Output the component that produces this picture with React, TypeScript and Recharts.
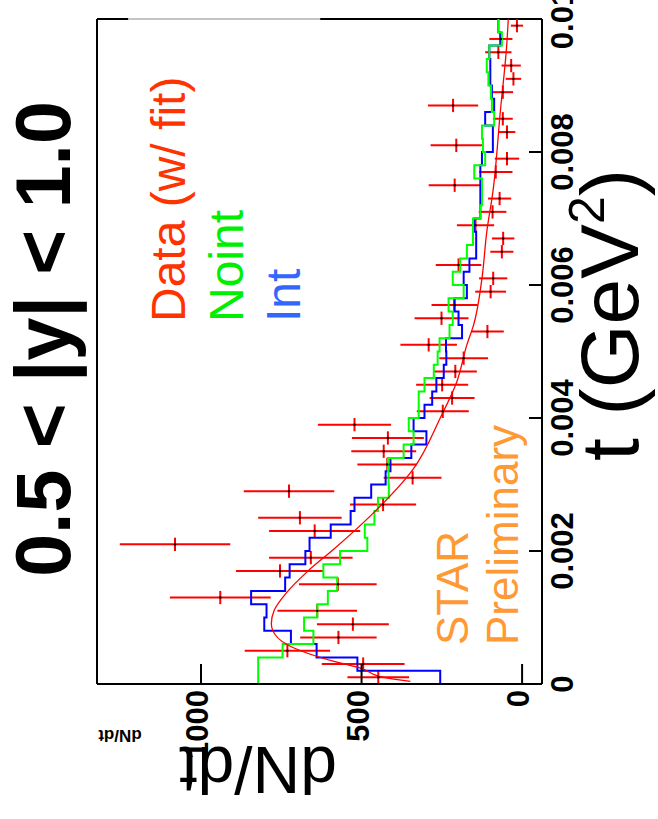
import React from 'react'
import { ComposedChart, Line, Scatter, ErrorBar, XAxis, YAxis, ReferenceLine } from 'recharts'

// t bin centres (GeV^2), bin width 0.0002
const tBins = [
  0.0001, 0.0003, 0.0005, 0.0007, 0.0009, 0.0011, 0.0013, 0.0015, 0.0017, 0.0019,
  0.0021, 0.0023, 0.0025, 0.0027, 0.0029, 0.0031, 0.0033, 0.0035, 0.0037, 0.0039,
  0.0041, 0.0043, 0.0045, 0.0047, 0.0049, 0.0051, 0.0053, 0.0055, 0.0057, 0.0059,
  0.0061, 0.0063, 0.0065, 0.0067, 0.0069, 0.0071, 0.0073, 0.0075, 0.0077, 0.0079,
  0.0081, 0.0083, 0.0085, 0.0087, 0.0089, 0.0091, 0.0093, 0.0095, 0.0097, 0.0099,
]

const dataValues = [
  448, 495, 731, 572, 527, 638, 940, 574, 754, 658,
  1081, 646, 692, 433, 726, 341, 420, 431, 418, 522,
  247, 218, 249, 208, 182, 291, 108, 251, 210, 98,
  90, 198, 63, 59, 145, 92, 70, 210, 82, 47,
  205, 47, 60, 215, 60, 27, 34, 74, 66, 16,
]

const dataErrors = [
  96, 129, 133, 119, 112, 124, 157, 121, 137, 130,
  172, 142, 130, 103, 141, 90, 93, 101, 112, 114,
  81, 70, 81, 67, 76, 88, 51, 84, 72, 48,
  44, 71, 36, 35, 58, 43, 36, 81, 52, 38,
  80, 26, 31, 78, 32, 24, 30, 41, 36, 19,
]

const nointValues = [
  822, 822, 746, 650, 679, 638, 605, 576, 619, 567,
  482, 490, 460, 449, 415, 416, 418, 369, 338, 353,
  322, 322, 304, 275, 263, 257, 226, 216, 229, 182,
  216, 193, 172, 153, 153, 130, 125, 125, 149, 115,
  122, 125, 87, 94, 97, 105, 110, 102, 63, 74,
]

const intValues = [
  255, 513, 640, 720, 803, 796, 844, 738, 724, 675,
  662, 596, 534, 522, 470, 425, 410, 345, 298, 338,
  304, 280, 267, 244, 236, 237, 187, 198, 211, 172,
  182, 164, 143, 143, 149, 130, 130, 130, 130, 125,
  91, 91, 115, 87, 94, 99, 99, 102, 68, 74,
]

const fitT = [
  0.00004, 0.0001, 0.00024, 0.00034, 0.00059, 0.00081, 0.00091, 0.00111, 0.00136, 0.00169,
  0.00203, 0.00254, 0.00324, 0.004, 0.00455, 0.0051, 0.0054, 0.0061, 0.0068, 0.0074,
  0.0086, 0.0096, 0.01,
]
const fitValues = [
  348, 431, 503, 586, 731, 777, 781, 772, 736, 669,
  586, 470, 338, 255, 203, 172, 151, 125, 110, 91,
  68, 48, 43,
]

const tTicks = [0, 0.002, 0.004, 0.006, 0.008, 0.01]
const yTicks = [0, 500, 1000]

const BIN_HALF = 0.0001
const FONT = '"Liberation Sans", Arial, sans-serif'

const points = tBins.map((t, i) => ({ t, v: dataValues[i], err: dataErrors[i], tw: BIN_HALF }))

// histogram rows at lower bin edges, closed at the upper edge
const histRows = tBins.map((t, i) => ({ t: t - BIN_HALF, noint: nointValues[i], int: intValues[i] }))
histRows.push({ t: 0.01, noint: nointValues[nointValues.length - 1], int: intValues[intValues.length - 1] })

const fitRows = fitT.map((t, i) => ({ t, fit: fitValues[i] }))

const fmtT = (v: number) => (v === 0 ? '0' : v === 0.01 ? '0.01' : v.toFixed(3))

const TTick = (props: any) => {
  const { x, y, payload } = props
  return (
    <g>
      <line x1={x} y1={y} x2={x} y2={y - 13} stroke="#000" strokeWidth={2} />
      <text x={x} y={y + 31} textAnchor="middle" fontFamily={FONT} fontWeight="bold" fontSize={31} fill="#000">
        {fmtT(payload.value)}
      </text>
    </g>
  )
}

const YTick = (props: any) => {
  const { x, y, payload } = props
  return (
    <g>
      <line x1={x} y1={y} x2={x + 20} y2={y} stroke="#000" strokeWidth={2} />
      <text x={x - 6} y={y + 7} textAnchor="end" fontFamily={FONT} fontWeight="bold" fontSize={31} fill="#000">
        {payload.value}
      </text>
    </g>
  )
}

const Marker = (props: any) => <circle cx={props.cx} cy={props.cy} r={1.2} fill="#000" />

export default function App() {
  return (
    <div style={{ position: 'absolute', left: 0, top: 0, width: 658, height: 819, overflow: 'hidden', background: '#fff' }}>
      <div
        style={{
          position: 'absolute',
          left: 0,
          top: 0,
          width: 819,
          height: 658,
          transformOrigin: '0 0',
          transform: 'translate(0px, 819px) rotate(-90deg)',
        }}
      >
        <ComposedChart width={819} height={658} margin={{ top: 97, right: 19, bottom: 76, left: 75 }}>
          <XAxis
            dataKey="t"
            type="number"
            domain={[0, 0.01]}
            ticks={tTicks}
            interval={0}
            allowDataOverflow
            height={40}
            tickSize={0}
            tickMargin={0}
            tickLine={false}
            axisLine={{ stroke: '#000', strokeWidth: 2 }}
            tick={<TTick />}
          />
          <YAxis
            type="number"
            domain={[-62, 1324]}
            ticks={yTicks}
            interval={0}
            allowDataOverflow
            width={60}
            tickSize={0}
            tickMargin={0}
            tickLine={false}
            axisLine={{ stroke: '#000', strokeWidth: 2 }}
            tick={<YTick />}
          />
          <ReferenceLine y={1324} stroke="#000" strokeWidth={2} ifOverflow="visible" />
          <ReferenceLine segment={[{ x: 0.01, y: -62 }, { x: 0.01, y: 629 }]} stroke="#000" strokeWidth={2} ifOverflow="visible" />
          <ReferenceLine segment={[{ x: 0.01, y: 629 }, { x: 0.01, y: 1227 }]} stroke="#888" strokeWidth={1} ifOverflow="visible" />
          <ReferenceLine segment={[{ x: 0.01, y: 1227 }, { x: 0.01, y: 1324 }]} stroke="#000" strokeWidth={2} ifOverflow="visible" />
          <Scatter data={points} dataKey="v" shape={<Marker />} isAnimationActive={false}>
            <ErrorBar dataKey="err" direction="y" width={0} stroke="#ff0000" strokeWidth={2} />
            <ErrorBar dataKey="tw" direction="x" width={0} stroke="#ff0000" strokeWidth={2} />
          </Scatter>
          <Line data={histRows} dataKey="int" type="stepAfter" stroke="#0000ff" strokeWidth={2} dot={false} isAnimationActive={false} />
          <Line data={histRows} dataKey="noint" type="stepAfter" stroke="#00ff00" strokeWidth={2} dot={false} isAnimationActive={false} />
          <Line data={fitRows} dataKey="fit" type="monotone" stroke="#ff0000" strokeWidth={1.3} dot={false} isAnimationActive={false} />
        </ComposedChart>
        <svg width={819} height={658} style={{ position: 'absolute', left: 0, top: 0, pointerEvents: 'none' }} fontFamily={FONT}>
          <text x={480} y={70} textAnchor="middle" fontSize={77} fontWeight="bold" fill="#000">
            0.5 &lt; |y| &lt; 1.0
          </text>
          <text x={497} y={185} fontSize={48} fill="#ff3300">Data (w/ fit)</text>
          <text x={497} y={243} fontSize={48} fill="#00ee00">Noint</text>
          <text x={497} y={300} fontSize={48} fill="#3366ff">Int</text>
          <text x={174} y={468} fontSize={44} fill="#ff9933">STAR</text>
          <text x={174} y={518} fontSize={44} fill="#ff9933">Preliminary</text>
          <text x={504} y={638} textAnchor="middle" fontSize={82} fill="#000">
            t (GeV<tspan fontSize={50} dy={-34}>2</tspan><tspan dy={34}>)</tspan>
          </text>
          <text x={72} y={258} textAnchor="middle" fontSize={66} fill="#000" transform="rotate(-90, 72, 258)">
            dN/dt
          </text>
          <text x={89} y={120} textAnchor="middle" fontSize={17} fontWeight="bold" fill="#000" transform="rotate(-90, 89, 120)">
            dN/dt
          </text>
        </svg>
      </div>
    </div>
  )
}
